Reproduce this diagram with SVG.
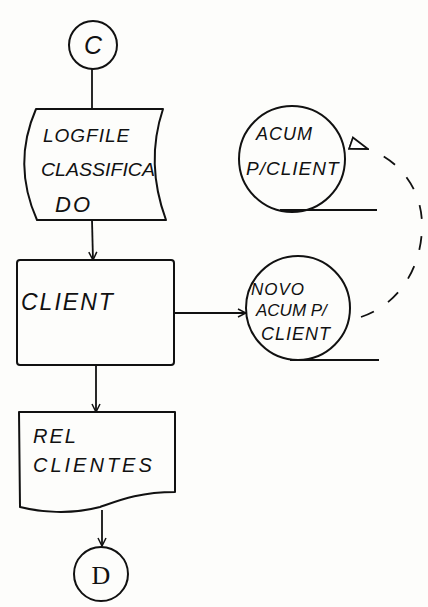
<svg xmlns="http://www.w3.org/2000/svg" width="428" height="607" viewBox="0 0 428 607">
  <style>
    .shape { fill: none; stroke: #111; stroke-width: 2; stroke-linejoin: round; }
    .line { fill: none; stroke: #111; stroke-width: 1.8; }
    .dash { fill: none; stroke: #111; stroke-width: 1.8; stroke-dasharray: 14 17; }
    .lbl { font-family: "Liberation Sans", Arial, sans-serif; font-size: 18px; font-style: italic; fill: #111; }
  </style>
  <defs>
    <marker id="arrow" viewBox="0 0 10 10" refX="9" refY="5" markerWidth="10" markerHeight="10" orient="auto" markerUnits="userSpaceOnUse">
      <path d="M1,1 L9,5 L1,9" fill="none" stroke="#111" stroke-width="1.5"/>
    </marker>
    <marker id="open" viewBox="0 0 20 16" refX="1" refY="8" markerWidth="20" markerHeight="16" orient="auto" markerUnits="userSpaceOnUse">
      <path d="M19,2 L1,8 L19,14 Z" fill="#fff" stroke="#111" stroke-width="1.8"/>
    </marker>
  </defs>
  <rect width="428" height="607" fill="#fdfdfb"/>

  <!-- connectors -->
  <g id="connectors">
    <line class="line" x1="92" y1="68" x2="92" y2="109"/>
    <line class="line" x1="92" y1="220" x2="93" y2="260" marker-end="url(#arrow)"/>
    <line class="line" x1="174" y1="313" x2="246" y2="313" marker-end="url(#arrow)"/>
    <line class="line" x1="96" y1="365" x2="96" y2="412" marker-end="url(#arrow)"/>
    <line class="line" x1="102" y1="510" x2="102" y2="546" marker-end="url(#arrow)"/>
    <path class="dash" d="M361,317 C397,305 422,270 422,225 C422,190 400,160 368,149" marker-end="url(#open)"/>
  </g>

  <g id="conn-c">
    <circle class="shape" cx="93" cy="45" r="24"/>
    <text class="lbl" x="93" y="54" text-anchor="middle" style="font-size:25px">C</text>
  </g>

  <g id="logfile">
    <path class="shape" d="M36,109 L163,109 Q145,163 166,220 L37,220 Q12,164 36,109 Z"/>
    <text class="lbl" x="43" y="142" style="font-size:19px;letter-spacing:1px">LOGFILE</text>
    <text class="lbl" x="41" y="176" textLength="114" lengthAdjust="spacingAndGlyphs" style="font-size:19px">CLASSIFICA</text>
    <text class="lbl" x="55" y="212" style="font-size:22px;letter-spacing:2px">DO</text>
  </g>

  <g id="client">
    <rect class="shape" x="17" y="260" width="157" height="105" rx="3"/>
    <text class="lbl" x="21" y="310" style="font-size:23px;letter-spacing:2px">CLIENT</text>
  </g>

  <g id="acum">
    <circle class="shape" cx="292" cy="159" r="53"/>
    <line class="shape" x1="280" y1="210" x2="377" y2="210"/>
    <text class="lbl" x="256" y="140" style="font-size:18px;letter-spacing:1px">ACUM</text>
    <text class="lbl" x="246" y="175" style="font-size:19px;letter-spacing:1px">P/CLIENT</text>
  </g>

  <g id="novo">
    <circle class="shape" cx="298" cy="308" r="52"/>
    <line class="shape" x1="290" y1="360" x2="379" y2="360"/>
    <text class="lbl" x="251" y="295" style="font-size:17px;letter-spacing:1px">NOVO</text>
    <text class="lbl" x="256" y="316" style="font-size:17px">ACUM P/</text>
    <text class="lbl" x="261" y="340" style="font-size:18px;letter-spacing:1px">CLIENT</text>
  </g>

  <g id="rel">
    <path class="shape" d="M19,412 L175,412 L175,492 C140,492 120,500 100,507 C70,515 40,512 20,507 Z"/>
    <text class="lbl" x="33" y="443" style="font-size:20px;letter-spacing:2px">REL</text>
    <text class="lbl" x="33" y="472" style="font-size:20px;letter-spacing:3px">CLIENTES</text>
  </g>

  <g id="conn-d">
    <circle class="shape" cx="101" cy="574" r="27"/>
    <text x="101" y="584" text-anchor="middle" style="font-family:'Liberation Serif',serif;font-size:26px;fill:#111">D</text>
  </g>
</svg>
